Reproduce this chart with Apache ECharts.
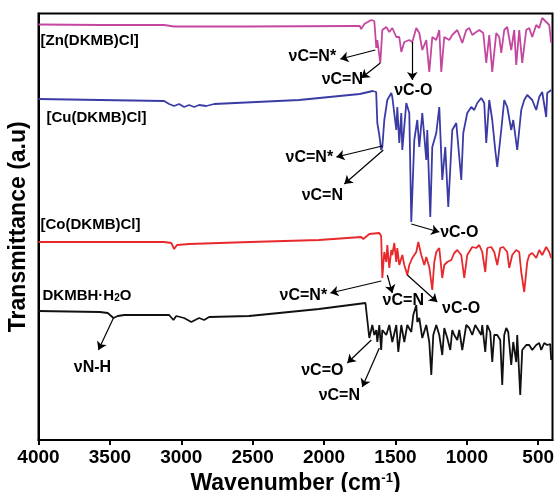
<!DOCTYPE html>
<html>
<head>
<meta charset="utf-8">
<script src="https://cdn.jsdelivr.net/npm/echarts@6/dist/echarts.min.js"></script>
<style>
  html, body { margin: 0; padding: 0; background: #fff; }
  #chart { width: 556px; height: 492px; }
</style>
</head>
<body>
<div id="chart"></div>
<script>
// FT-IR spectra: wavenumber (cm-1) vs transmittance (a.u., traces offset vertically)
const wavenumberTicks = [4000, 3500, 3000, 2500, 2000, 1500, 1000, 500];

const znSpectrum = [[4000,415.5],[3570,415],[3120,415],[3050,413.5],[2520,413.5],[1790,414],[1750,414],[1740,411],[1718,416],[1670,420],[1648,419],[1634,392],[1627,400],[1606,377],[1592,410],[1564,413],[1543,408],[1522,412],[1494,403],[1473,403],[1459,388],[1438,398],[1403,400],[1382,398],[1354,412],[1333,407],[1312,390],[1284,400],[1263,368],[1242,403],[1214,400],[1193,410],[1179,368],[1158,403],[1123,400],[1102,405],[1088,407],[1067,410],[1053,405],[1032,397],[1004,410],[983,412],[962,405],[934,408],[913,410],[885,407],[864,377],[843,405],[822,368],[794,407],[773,403],[759,387],[738,410],[717,413],[689,390],[668,410],[654,375],[633,410],[612,377],[584,410],[563,412],[542,403],[514,415],[493,412],[472,422],[444,418],[423,415],[409,397]];

const cuSpectrum = [[4000,341],[3570,340],[3120,339],[3085,336],[3050,334],[3015,336],[2980,333],[2945,335],[2910,333],[2875,335],[2825,334],[2770,336],[2175,340],[1750,346],[1660,349],[1635,348],[1627,317],[1613,305],[1600,290],[1592,293],[1578,320],[1557,340],[1529,347],[1522,343],[1508,345],[1494,310],[1487,333],[1473,297],[1459,327],[1452,290],[1424,337],[1403,327],[1389,218],[1368,300],[1347,320],[1333,293],[1312,327],[1284,280],[1277,310],[1256,223],[1242,293],[1214,307],[1193,333],[1172,260],[1151,293],[1130,233],[1102,310],[1074,317],[1053,283],[1039,260],[1025,307],[997,327],[969,333],[948,330],[927,337],[899,342],[878,337],[864,297],[843,340],[822,320],[801,290],[787,273],[759,310],[738,340],[717,333],[689,310],[675,320],[647,290],[619,330],[598,340],[577,345],[542,340],[514,330],[493,343],[472,348],[444,323],[437,347],[409,350]];

const coSpectrum = [[4000,198],[3570,198],[3120,198],[3070,197],[3050,191],[3030,195],[2945,196],[2520,198],[2035,200],[1740,203],[1725,201],[1683,206],[1613,207],[1600,204],[1592,162],[1578,188],[1564,178],[1557,195],[1543,172],[1529,190],[1522,185],[1508,197],[1494,178],[1487,192],[1473,175],[1452,185],[1438,175],[1417,165],[1403,175],[1382,182],[1354,188],[1340,198],[1319,185],[1298,175],[1284,183],[1263,173],[1242,150],[1228,178],[1214,188],[1193,192],[1172,162],[1158,175],[1137,178],[1109,180],[1088,187],[1067,190],[1039,185],[1018,162],[997,185],[962,193],[934,192],[913,195],[892,188],[871,168],[857,192],[829,193],[808,188],[787,175],[766,192],[745,193],[717,188],[703,172],[682,185],[654,190],[633,188],[619,168],[598,148],[577,178],[563,185],[542,187],[514,182],[493,190],[472,185],[444,193],[423,188],[409,182]];

const ligandSpectrum = [[4000,129],[3570,128],[3515,127],[3475,122],[3445,124],[3400,125],[3085,125],[3055,120],[3035,124],[2980,122],[2930,118],[2875,122],[2840,120],[2805,123],[2525,124],[2035,131],[1710,137],[1697,120],[1683,102],[1662,115],[1648,105],[1634,110],[1627,98],[1613,115],[1600,90],[1592,110],[1564,105],[1543,115],[1522,98],[1494,115],[1480,88],[1459,115],[1438,98],[1417,115],[1389,108],[1375,125],[1354,135],[1347,118],[1333,122],[1312,102],[1284,115],[1263,98],[1249,65],[1235,105],[1214,115],[1193,105],[1172,85],[1158,112],[1137,102],[1116,90],[1102,110],[1088,105],[1067,100],[1053,110],[1032,90],[1004,115],[983,112],[962,105],[941,115],[927,117],[899,105],[892,115],[871,88],[857,115],[836,108],[822,78],[808,105],[787,105],[766,100],[752,55],[738,105],[724,112],[710,108],[689,75],[675,98],[654,78],[647,105],[626,45],[612,90],[584,95],[563,95],[542,90],[514,95],[493,97],[479,90],[458,97],[437,95],[416,96],[409,80]];

const sampleNames = ['[Zn(DKMB)Cl]', '[Cu(DKMB)Cl]', '[Co(DKMB)Cl]', 'DKMBH·H{sub|2}O'];
const traceColors = ['#c4479f', '#3b3ba6', '#e8282b', '#111111'];

// band assignment arrows: [from, to] in (wavenumber, a.u.)
const znArrows = [[[1641,390],[1886,381]], [[1606,377],[1739,362]], [[1382,398],[1382,360]]];
const cuArrows = [[[1592,294],[1914,283]], [[1585,290],[1858,256]], [[1389,216],[1193,208]]];
const coArrows = [[[1599,159],[1956,147]], [[1557,165],[1522,147]], [[1417,165],[1207,138]]];
const ligandArrows = [[[3475,122],[3580,90]], [[1669,100],[1837,77]], [[1613,92],[1732,53]]];

// text notes: [text, wavenumber, a.u., align, size]
const notes = [
  [sampleNames[0], 3986, 399, 'left', 15],
  [sampleNames[1], 3944, 322, 'left', 15],
  [sampleNames[2], 3986, 215, 'left', 15],
  [sampleNames[3], 3972, 144, 'left', 15],
  ['νC=N*', 2082, 383, 'center', 16],
  ['νC=N', 1872, 360, 'center', 16],
  ['νC-O', 1375, 349, 'center', 16],
  ['νC=N*', 2103, 282, 'center', 16],
  ['νC=N', 2012, 244, 'center', 16],
  ['νC-O', 1053, 207, 'center', 16],
  ['νC=N*', 2145, 144, 'center', 16],
  ['νC=N', 1445, 139, 'center', 16],
  ['νC-O', 1040, 131, 'center', 16],
  ['νN-H', 3622, 72, 'center', 16],
  ['νC=O', 2012, 69, 'center', 16],
  ['νC=N', 1893, 44, 'center', 16]
];

const FONT = "'Liberation Sans', Arial, sans-serif";

function trace(name, color, data, arrows) {
  return {
    type: 'line',
    name: name,
    data: data,
    symbol: 'none',
    animation: false,
    silent: true,
    lineStyle: { color: color, width: 1.8 },
    itemStyle: { color: color },
    markLine: {
      silent: true,
      animation: false,
      symbol: ['none', 'arrow'],
      symbolSize: 8,
      label: { show: false },
      lineStyle: { color: '#000', width: 1.2, type: 'solid' },
      data: arrows.map(a => [{ coord: a[0] }, { coord: a[1] }])
    }
  };
}

const chart = echarts.init(document.getElementById('chart'), null, { renderer: 'canvas' });

const option = {
  backgroundColor: '#fff',
  animation: false,
  grid: {
    left: 38.5, right: 3.5, top: 13.5, bottom: 52,
    outerBoundsMode: 'none',
    containLabel: false,
    show: true, borderColor: '#000', borderWidth: 2, backgroundColor: 'transparent'
  },
  xAxis: {
    type: 'value',
    min: 400,
    max: 4000,
    inverse: true,
    name: 'Wavenumber (cm{sup|-1})',
    nameLocation: 'middle',
    nameGap: 23,
    nameTextStyle: {
      fontFamily: FONT, fontWeight: 'bold', fontSize: 23, color: '#000',
      rich: { sup: { fontFamily: FONT, fontWeight: 'bold', fontSize: 13, verticalAlign: 'top', color: '#000' } }
    },
    axisLine: { show: true, lineStyle: { color: '#000', width: 2 } },
    axisTick: { show: true, customValues: wavenumberTicks, length: 5, lineStyle: { color: '#000', width: 2 } },
    axisLabel: {
      customValues: wavenumberTicks,
      formatter: v => String(v),
      margin: 8,
      fontFamily: FONT, fontWeight: 'bold', fontSize: 19, color: '#000'
    },
    splitLine: { show: false }
  },
  yAxis: {
    type: 'value',
    min: 0,
    max: 426.5,
    name: 'Transmittance (a.u)',
    nameLocation: 'middle',
    nameGap: 8,
    nameTextStyle: { fontFamily: FONT, fontWeight: 'bold', fontSize: 23, color: '#000' },
    axisLine: { show: true, lineStyle: { color: '#000', width: 2 } },
    axisTick: { show: false },
    axisLabel: { show: false },
    splitLine: { show: false }
  },
  series: [
    trace('Zn', traceColors[0], znSpectrum, znArrows),
    trace('Cu', traceColors[1], cuSpectrum, cuArrows),
    trace('Co', traceColors[2], coSpectrum, coArrows),
    trace('Ligand', traceColors[3], ligandSpectrum, ligandArrows)
  ]
};

chart.setOption(option);

// place text notes through the grid's coordinate system
const graphics = notes.map(n => {
  const p = chart.convertToPixel({ gridIndex: 0 }, [n[1], n[2]]);
  return {
    type: 'text',
    x: p[0],
    y: p[1],
    silent: true,
    style: {
      text: n[0],
      fill: '#000',
      fontFamily: FONT,
      fontWeight: 'bold',
      fontSize: n[4],
      align: n[3],
      verticalAlign: 'middle',
      rich: {
        sub: { fontFamily: FONT, fontWeight: 'bold', fontSize: 10, verticalAlign: 'bottom', fill: '#000' }
      }
    }
  };
});
chart.setOption({ graphic: graphics });
</script>
</body>
</html>
